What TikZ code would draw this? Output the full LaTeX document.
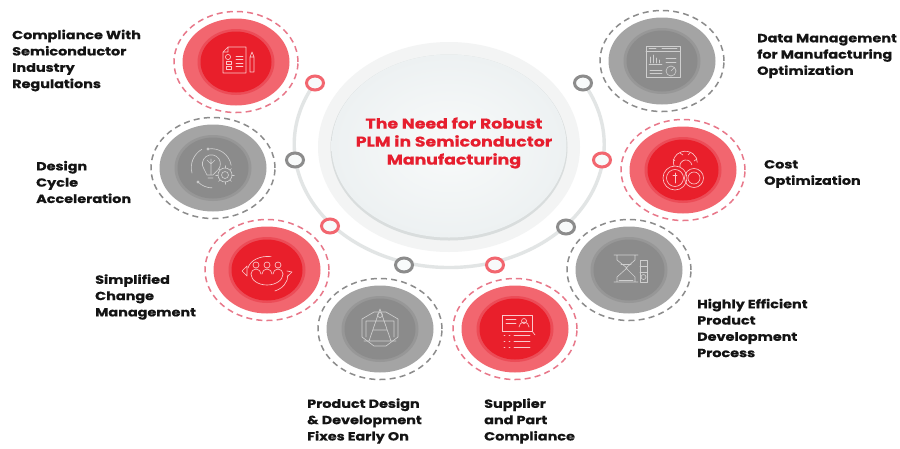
\documentclass[tikz,border=0pt]{standalone}
\usepackage{fontspec}
\setmainfont[BoldFeatures={FakeStretch=1.22,FakeBold=0.5}]{Poppins}
\usetikzlibrary{shapes.geometric}
\definecolor{rO}{HTML}{F2666F}
\definecolor{rM}{HTML}{EC4C57}
\definecolor{rI}{HTML}{E91F2B}
\definecolor{rD}{HTML}{E8788A}
\definecolor{gO}{HTML}{A4A4A4}
\definecolor{gM}{HTML}{979797}
\definecolor{gI}{HTML}{8B8B8B}
\definecolor{gD}{HTML}{8C8C8C}
\definecolor{ringc}{HTML}{E2E5E5}
\definecolor{titlec}{HTML}{E61E2E}
\definecolor{icR}{HTML}{FBC9CC}
\definecolor{icG}{HTML}{CFCFCF}
\definecolor{hubO}{HTML}{F3F4F4}
\definecolor{hubE}{HTML}{D9DDDD}
\definecolor{hubA}{HTML}{F8FAFA}
\definecolor{hubB}{HTML}{EDF1F2}
\tikzset{
  x=1pt,y=-1pt,
  ell/.style={ellipse,inner sep=0pt,outer sep=0pt},
  dashr/.style={ell,draw=#1,line width=1.5pt,dash pattern=on 6pt off 4.2pt,minimum width=124pt,minimum height=101pt},
  outerfill/.style={ell,fill=#1,minimum width=107pt,minimum height=87pt},
  midfill/.style={ell,fill=#1,minimum width=77pt,minimum height=66pt},
  innerfill/.style={ell,fill=#1,minimum width=71pt,minimum height=61pt},
  smallc/.style={ell,fill=hubA,draw=#1,line width=3pt,minimum width=17pt,minimum height=14pt},
  label/.style={inner sep=0pt,anchor=west,align=left,text=black!92,font=\fontsize{11.8}{16.3}\selectfont\bfseries},
  iconl/.style={draw=#1,line width=0.65pt,line join=round,line cap=round,fill=none},
}
\begin{document}
\begin{tikzpicture}
\useasboundingbox (0,0) rectangle (900,448);
\fill[white] (0,0) rectangle (900,448);
% hub
\node[ell,fill=hubO,minimum width=262pt,minimum height=210pt] (hubouter) at (449,147) {};
\node[ell,fill=hubE,minimum width=237pt,minimum height=186pt] (hubedge) at (449,147.5) {};
\node[ell,inner color=hubA,outer color=hubB,minimum width=235pt,minimum height=183pt] (hub) at (449,146) {};
\node[inner sep=0pt,align=center,text=titlec,font=\fontsize{14.2}{18}\selectfont\bfseries] (hubtext) at (454,143) {The Need for Robust\\PLM in Semiconductor\\Manufacturing};
% small nodes
\coordinate (pa) at (315,83);
\draw[ringc,line width=3.4pt] (pa) arc[start angle=150,end angle=390,x radius=155pt,y radius=123pt];
\node[smallc=rO] (s1) at (315,83) {};
\node[smallc=gD] (s2) at (295,160) {};
\node[smallc=rO] (s3) at (330,226) {};
\node[smallc=gD] (s4) at (404,265) {};
\node[smallc=rO] (s5) at (495,265) {};
\node[smallc=gD] (s6) at (566,227) {};
\node[smallc=rO] (s7) at (602,160) {};
\node[smallc=gD] (s8) at (583,83) {};
% discs
\foreach \n/\cx/\cy/\a/\b/\c/\d in {
  A/236/62/rD/rO/rM/rI, B/213/168/gD/gO/gM/gI, C/267/270/rD/rO/rM/rI, D/380/329/gD/gO/gM/gI,
  E/515/329/rD/rO/rM/rI, F/629/270/gD/gO/gM/gI, G/683/170/rD/rO/rM/rI, H/662/61/gD/gO/gM/gI}{
  \node[dashr=\a] (d\n) at (\cx,\cy) {};
  \node[outerfill=\b] (o\n) at (\cx,\cy) {};
  \node[midfill=\c] (m\n) at (\cx,\cy) {};
  \node[innerfill=\d] (i\n) at (\cx,\cy) {};
}
% icon A: document and pen
\begin{scope}[shift={(236,60)},iconl=icR]
  \draw (-8,-13) -- (10,-13) -- (10,13) -- (-13,13) -- (-13,-8) -- cycle (-13,-8) -- (-8,-8) -- (-8,-13);
  \draw (-8,-3) circle[radius=2.6];\draw (-10,6) rectangle (-5,9);\draw (-10,1) rectangle (-5,4);
  \draw (0,-4) -- (7,-4) (0,-1) -- (7,-1) (0,3) -- (7,3) (0,6) -- (7,6);
  \draw (14,-3) rectangle (18,12) (14,-3) -- (16,-8) -- (18,-3);
\end{scope}
% icon B: bulb and gear
\begin{scope}[shift={(213,168)},iconl=icG]
  \draw (-9,1) arc[start angle=215,end angle=-35,radius=9pt];
  \draw (-9,1) -- (-6,7) -- (0,7) -- (5.7,1) (-5,10) -- (0,10) (-2,-9) -- (-2,6) (-6,-8) -- (-2,-4) -- (2,-8);
  \draw (12,7) circle[radius=3.5] (12,7) circle[radius=7];
  \foreach \g in {0,45,...,315}{\draw (12,7) ++(\g:7) -- ++(\g:2.2);}
  \draw (-21,5) arc[start angle=195,end angle=120,radius=21pt];
  \draw (-5,-19) arc[start angle=100,end angle=10,radius=20pt];
  \draw (-15,14) arc[start angle=225,end angle=270,radius=20pt];
  \draw (-15,14) circle[radius=1.2] (-5,-19) circle[radius=1.2];
\end{scope}
% icon C: people with arrows
\begin{scope}[shift={(267,270)},iconl=icR]
  \foreach \q in {-11,0,11}{\draw (\q,-5) circle[radius=3];\draw (\q-5,4) arc[start angle=180,end angle=0,radius=5pt];}
  \draw (-16,4) arc[start angle=180,end angle=360,x radius=16pt,y radius=11pt];
  \draw (-19,-2) arc[start angle=170,end angle=80,x radius=20pt,y radius=14pt];
  \draw (20,1) -- (25,2) -- (20,7);
  \draw (-25,1) -- (-20,-4) -- (-20,6) -- cycle;
  \draw (21,5) arc[start angle=0,end angle=-70,x radius=20pt,y radius=17pt];
\end{scope}
% icon D: compass in box
\begin{scope}[shift={(380,329)},iconl=icG]
  \draw (-18,-10) -- (-6,-17) -- (6,-17) -- (18,-10) -- (18,8) -- (6,17) -- (-6,17) -- (-18,8) -- cycle;
  \draw (0,-20) -- (-11,12) (0,-20) -- (11,12) (-7,1) -- (7,1) (-14,-8) -- (14,-8) (-14,-8) -- (-14,8) (14,-8) -- (14,8) (-16,12) -- (16,12);
  \draw (0,-14) circle[radius=2.5];
\end{scope}
% icon E: chat and list
\begin{scope}[shift={(515,329)},iconl=icR]
  \draw (-13,-14) rectangle (17,2);
  \draw (-9,-10) -- (1,-10) (-9,-6) -- (1,-6);
  \draw (9,-8) circle[radius=2.5] (4,-2) arc[start angle=180,end angle=0,radius=5pt];
  \draw (17,2) -- (20,6);
  \foreach \r in {6,12,18}{\draw (-11,\r) -- (-10,\r) (-6,\r) -- (-5,\r) (-1,\r) -- (15,\r);}
\end{scope}
% icon F: hourglass and gauge
\begin{scope}[shift={(629,270)},iconl=icG]
  \draw (-15,-15) -- (9,-15) (-15,12) -- (9,12) (-12,-15) -- (-12,-10) -- (-2,-2) -- (-12,7) -- (-12,12) (6,-15) -- (6,-10) -- (-3,-2) -- (6,7) -- (6,12);
  \draw (-8,-6) -- (2,-6) (-10,10) -- (4,10);
  \draw (11,-10) rectangle (18,12) (11,-4) -- (18,-4) (11,2) -- (18,2);
  \draw (14.5,7) circle[radius=2.5];
\end{scope}
% icon G: coins and gear
\begin{scope}[shift={(683,170)},iconl=icR]
  \draw (-8,8) circle[radius=12] (-8,8) circle[radius=8.5];
  \draw (11,8) circle[radius=9.5] (11,8) circle[radius=6];
  \draw (-8,3) -- (-8,13) (-10,5) -- (-6,5);
  \draw (-9,-4) arc[start angle=200,end angle=0,x radius=12pt,y radius=11pt];
  \draw (-3,-3) arc[start angle=190,end angle=10,x radius=6pt,y radius=6pt];
  \draw (-3,-17) -- (0,-15) (7,-17) -- (5,-15) (-10,-11) -- (-8,-9) (14,-11) -- (11,-9);
\end{scope}
% icon H: window
\begin{scope}[shift={(662,61)},iconl=icG]
  \draw (-16,-15) rectangle (18,16) (-16,-10) -- (18,-10);
  \draw (-13,-13) -- (-6,-13) (0,-13) -- (15,-13);
  \draw (-12,2) -- (-12,-4) (-9,2) -- (-9,-6) (-6,2) -- (-6,-3) (-3,2) -- (-3,-1) (-13,3) -- (0,3);
  \draw (4,-3) -- (14,-3) (4,1) -- (14,1) (-12,9) -- (0,9) (-12,12) -- (0,12);
  \draw (9,10) circle[radius=5] (9,10) -- (12,7);
\end{scope}
% labels
\node[label] (t1) at (12,60.5) {Compliance With\\Semiconductor\\Industry\\Regulations};
\node[label] (t2) at (36,182) {Design\\Cycle\\Acceleration};
\node[label] (t3) at (95,297) {Simplified\\Change\\Management};
\node[label] (t4) at (307,421) {Product Design\\\& Development\\Fixes Early On};
\node[label] (t5) at (484,421) {Supplier\\and Part\\Compliance};
\node[label] (t6) at (697,328) {Highly Efficient\\Product\\Development\\Process};
\node[label] (t7) at (764,174) {Cost\\Optimization};
\node[label] (t8) at (757,56) {Data Management\\for Manufacturing\\Optimization};
\end{tikzpicture}
\end{document}
